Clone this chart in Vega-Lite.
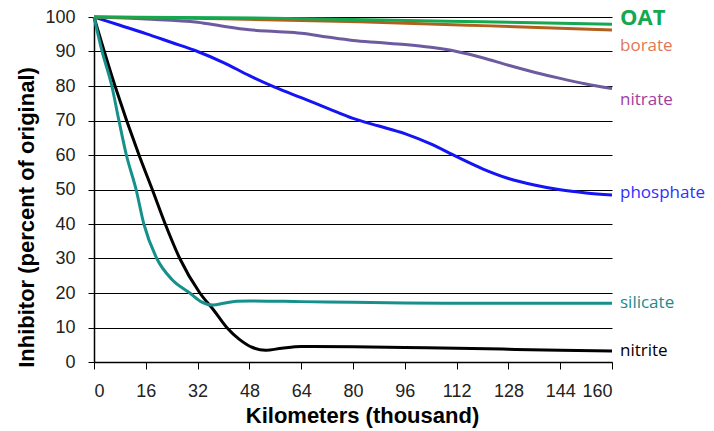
{
  "$schema": "https://vega.github.io/schema/vega-lite/v6.json",
  "width": 518,
  "height": 345,
  "autosize": {"type": "none"},
  "padding": {"left": 94, "top": 17, "right": 102, "bottom": 69},
  "background": "white",
  "config": {"view": {"stroke": null}, "font": "Liberation Sans"},
  "datasets": {
    "lines": [
      {"s": "nitrite", "km": 0, "v": 100}, {"s": "nitrite", "km": 6.5, "v": 80}, {"s": "nitrite", "km": 13.9, "v": 60}, {"s": "nitrite", "km": 18, "v": 50}, {"s": "nitrite", "km": 22, "v": 40}, {"s": "nitrite", "km": 26.5, "v": 30}, {"s": "nitrite", "km": 32.7, "v": 20}, {"s": "nitrite", "km": 37, "v": 15}, {"s": "nitrite", "km": 41, "v": 10}, {"s": "nitrite", "km": 45, "v": 6.5}, {"s": "nitrite", "km": 49, "v": 4.2}, {"s": "nitrite", "km": 53, "v": 3.4}, {"s": "nitrite", "km": 58, "v": 4}, {"s": "nitrite", "km": 64, "v": 4.5}, {"s": "nitrite", "km": 80, "v": 4.4}, {"s": "nitrite", "km": 96, "v": 4.2}, {"s": "nitrite", "km": 112, "v": 4.0}, {"s": "nitrite", "km": 128, "v": 3.7}, {"s": "nitrite", "km": 144, "v": 3.4}, {"s": "nitrite", "km": 160, "v": 3.2},
      {"s": "silicate", "km": 0, "v": 100}, {"s": "silicate", "km": 2.5, "v": 90}, {"s": "silicate", "km": 5.5, "v": 80}, {"s": "silicate", "km": 7.7, "v": 70}, {"s": "silicate", "km": 10, "v": 60}, {"s": "silicate", "km": 13, "v": 50}, {"s": "silicate", "km": 15.4, "v": 40}, {"s": "silicate", "km": 19.4, "v": 30}, {"s": "silicate", "km": 24, "v": 24}, {"s": "silicate", "km": 29.6, "v": 20}, {"s": "silicate", "km": 33, "v": 17.5}, {"s": "silicate", "km": 36.8, "v": 16.5}, {"s": "silicate", "km": 40, "v": 17}, {"s": "silicate", "km": 44, "v": 17.6}, {"s": "silicate", "km": 48, "v": 17.7}, {"s": "silicate", "km": 64, "v": 17.5}, {"s": "silicate", "km": 80, "v": 17.3}, {"s": "silicate", "km": 96, "v": 17.1}, {"s": "silicate", "km": 112, "v": 17.0}, {"s": "silicate", "km": 128, "v": 17.0}, {"s": "silicate", "km": 144, "v": 17.0}, {"s": "silicate", "km": 160, "v": 17.0},
      {"s": "phosphate", "km": 0, "v": 100}, {"s": "phosphate", "km": 8, "v": 97.6}, {"s": "phosphate", "km": 16, "v": 95.2}, {"s": "phosphate", "km": 24, "v": 92.6}, {"s": "phosphate", "km": 32, "v": 90}, {"s": "phosphate", "km": 40, "v": 86.8}, {"s": "phosphate", "km": 48, "v": 83}, {"s": "phosphate", "km": 56, "v": 79.6}, {"s": "phosphate", "km": 64, "v": 76.6}, {"s": "phosphate", "km": 72, "v": 73.6}, {"s": "phosphate", "km": 80, "v": 70.6}, {"s": "phosphate", "km": 88, "v": 68.4}, {"s": "phosphate", "km": 96, "v": 66.2}, {"s": "phosphate", "km": 104, "v": 63.2}, {"s": "phosphate", "km": 112, "v": 59.5}, {"s": "phosphate", "km": 120, "v": 56}, {"s": "phosphate", "km": 128, "v": 53.2}, {"s": "phosphate", "km": 136, "v": 51.3}, {"s": "phosphate", "km": 144, "v": 49.9}, {"s": "phosphate", "km": 152, "v": 49}, {"s": "phosphate", "km": 160, "v": 48.4},
      {"s": "nitrate", "km": 0, "v": 100}, {"s": "nitrate", "km": 16, "v": 99.4}, {"s": "nitrate", "km": 32, "v": 98.5}, {"s": "nitrate", "km": 40, "v": 97.3}, {"s": "nitrate", "km": 48, "v": 96.3}, {"s": "nitrate", "km": 56, "v": 95.8}, {"s": "nitrate", "km": 64, "v": 95.3}, {"s": "nitrate", "km": 72, "v": 94.2}, {"s": "nitrate", "km": 80, "v": 93.2}, {"s": "nitrate", "km": 88, "v": 92.6}, {"s": "nitrate", "km": 96, "v": 92.0}, {"s": "nitrate", "km": 104, "v": 91.2}, {"s": "nitrate", "km": 112, "v": 90.0}, {"s": "nitrate", "km": 120, "v": 88.2}, {"s": "nitrate", "km": 128, "v": 86}, {"s": "nitrate", "km": 136, "v": 84}, {"s": "nitrate", "km": 144, "v": 82.2}, {"s": "nitrate", "km": 152, "v": 80.6}, {"s": "nitrate", "km": 160, "v": 79.3},
      {"s": "borate", "km": 0, "v": 100}, {"s": "borate", "km": 40, "v": 99.5}, {"s": "borate", "km": 82, "v": 98.6}, {"s": "borate", "km": 120, "v": 97.5}, {"s": "borate", "km": 160, "v": 96.2},
      {"s": "OAT", "km": 0, "v": 100}, {"s": "OAT", "km": 40, "v": 99.8}, {"s": "OAT", "km": 80, "v": 99.3}, {"s": "OAT", "km": 120, "v": 98.6}, {"s": "OAT", "km": 160, "v": 97.9}
    ],
    "labels": [
      {"s": "OAT", "km": 160, "v": 99.6},
      {"s": "borate", "km": 160, "v": 91.5},
      {"s": "nitrate", "km": 160, "v": 75.9},
      {"s": "phosphate", "km": 160, "v": 48.9},
      {"s": "silicate", "km": 160, "v": 17.1},
      {"s": "nitrite", "km": 160, "v": 3.2}
    ]
  },
  "encoding": {
    "x": {
      "field": "km", "type": "quantitative",
      "scale": {"domain": [0, 160], "nice": false},
      "axis": {
        "values": [0, 16, 32, 48, 64, 80, 96, 112, 128, 144, 160],
        "title": "Kilometers (thousand)",
        "titleFontSize": 22, "titleFontWeight": "bold", "titleColor": "#000", "titlePadding": 5, "titleX": 268,
        "labelFontSize": 18, "labelColor": "#222", "labelPadding": 13, "labelOverlap": false,
        "tickSize": 7, "tickColor": "#000", "domainColor": "#000", "domainWidth": 1.5,
        "grid": false
      }
    },
    "y": {
      "field": "v", "type": "quantitative",
      "scale": {"domain": [0, 100], "nice": false},
      "axis": {
        "values": [0, 10, 20, 30, 40, 50, 60, 70, 80, 90, 100],
        "tickCount": 11,
        "title": "Inhibitor (percent of original)",
        "titleFontSize": 22, "titleFontWeight": "bold", "titleColor": "#000", "titlePadding": 6, "titleY": 200,
        "labelFontSize": 18, "labelColor": "#222", "labelPadding": 13, "labelOverlap": false,
        "tickSize": 6, "tickColor": "#000", "domainColor": "#000", "domainWidth": 1.5,
        "grid": true, "gridColor": "#000", "gridWidth": 1
      }
    }
  },
  "layer": [
    {
      "data": {"name": "lines"},
      "mark": {"type": "line", "strokeWidth": 3, "interpolate": "monotone"},
      "encoding": {
        "color": {
          "field": "s", "type": "nominal", "legend": null,
          "scale": {
            "domain": ["nitrite", "silicate", "phosphate", "nitrate", "borate", "OAT"],
            "range": ["#000000", "#16908C", "#1414F5", "#6E5A9E", "#B0601C", "#14A850"]
          }
        }
      }
    },
    {
      "data": {"name": "labels"},
      "transform": [{"filter": "datum.s !== 'OAT'"}],
      "mark": {"type": "text", "align": "left", "baseline": "middle", "dx": 8, "fontSize": 17, "font": "Open Sans"},
      "encoding": {
        "text": {"field": "s"},
        "color": {
          "field": "s", "type": "nominal", "legend": null,
          "scale": {
            "domain": ["nitrite", "silicate", "phosphate", "nitrate", "borate", "OAT"],
            "range": ["#000000", "#1A8C8C", "#3030FF", "#A040A0", "#E07858", "#14A850"]
          }
        }
      }
    },
    {
      "data": {"name": "labels"},
      "transform": [{"filter": "datum.s === 'OAT'"}],
      "mark": {"type": "text", "align": "left", "baseline": "middle", "dx": 8, "fontSize": 22, "fontWeight": "bold", "font": "Open Sans", "color": "#14A850"},
      "encoding": {
        "text": {"field": "s"}
      }
    }
  ],
  "resolve": {"scale": {"color": "independent"}}
}
